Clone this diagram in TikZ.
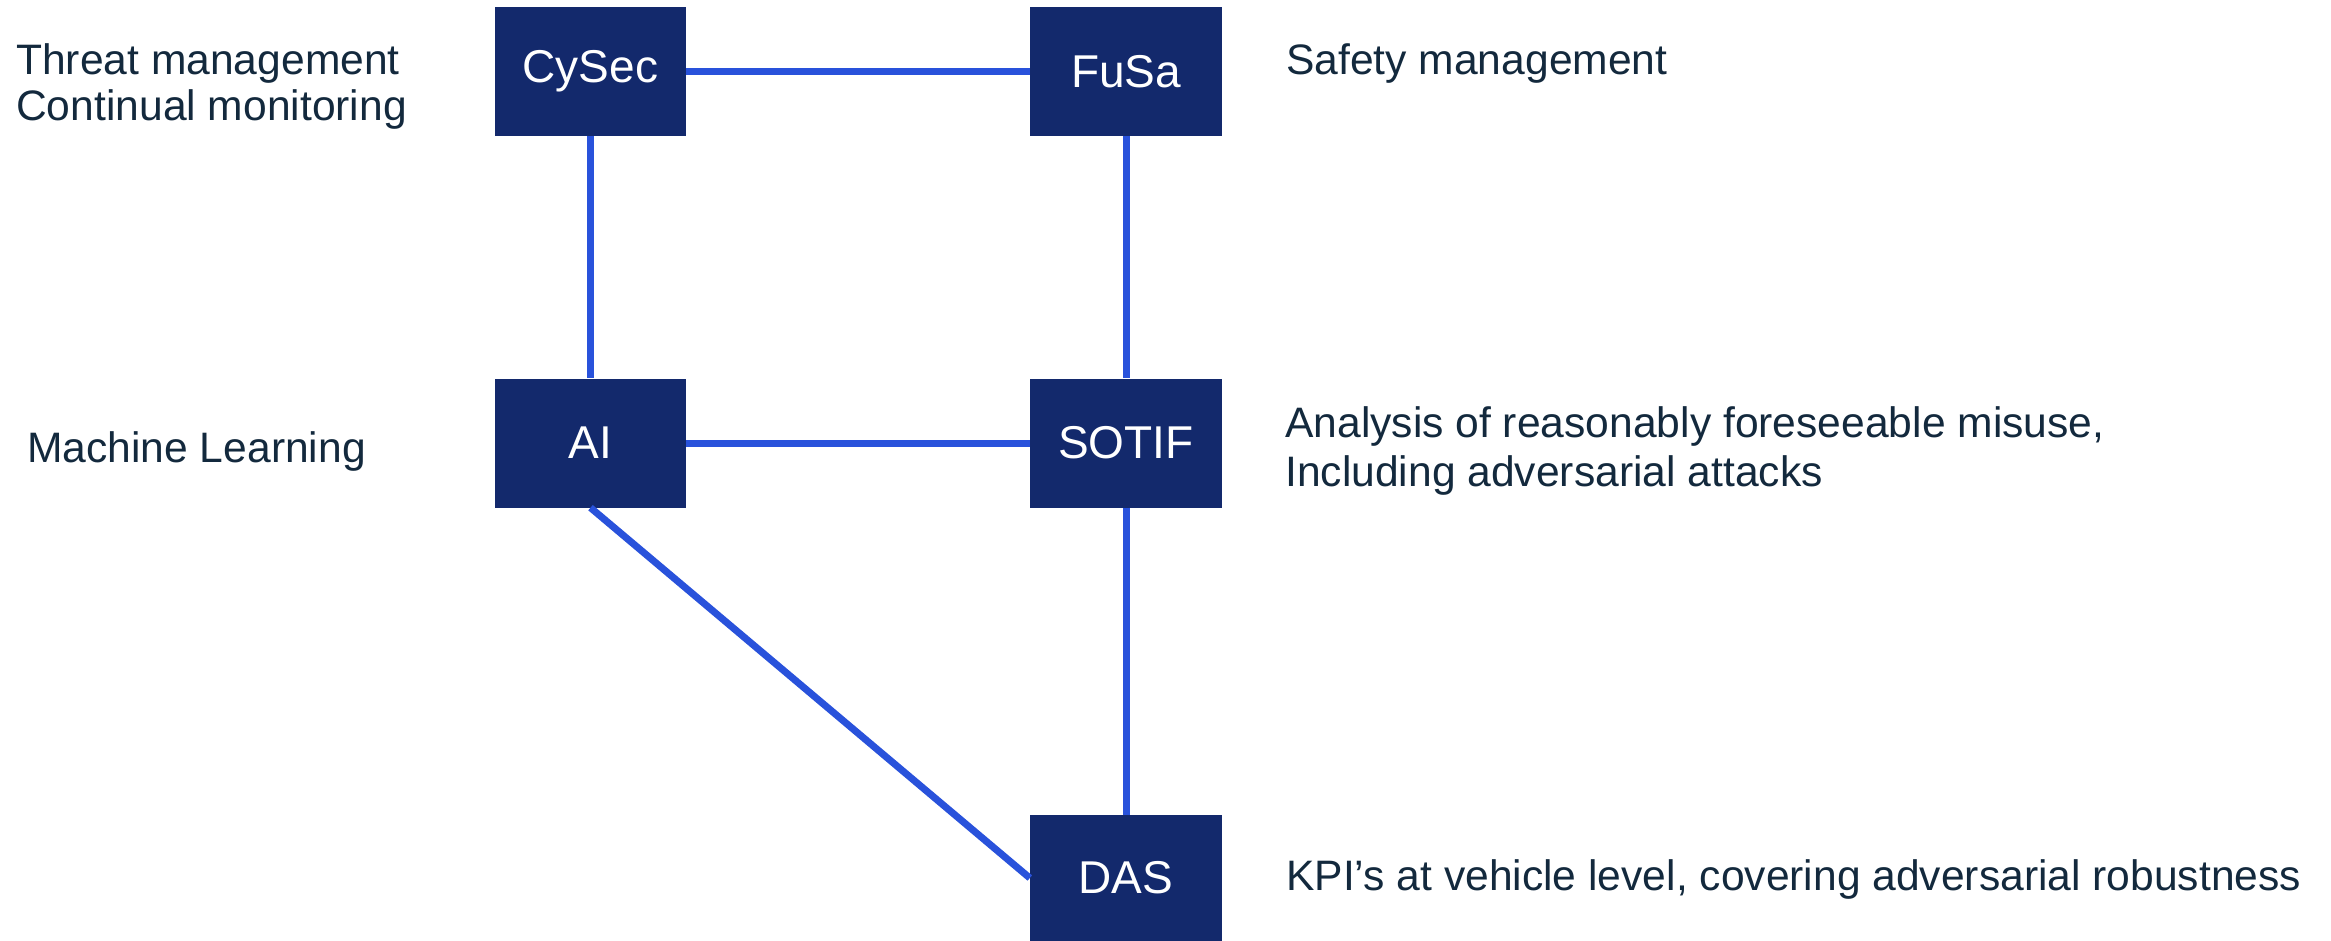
\documentclass[tikz,border=0pt]{standalone}
\usepackage{fontspec}
\setmainfont{Liberation Sans}
\definecolor{boxfill}{RGB}{19,41,108}
\definecolor{linkcol}{RGB}{41,82,219}
\definecolor{txtcol}{RGB}{19,41,61}
\tikzset{
  blk/.style={draw=none, fill=boxfill, text=white, inner sep=0pt,
    minimum width=191pt, minimum height=129pt, font=\fontsize{46pt}{50pt}\selectfont},
  lbl/.style={anchor=base west, inner sep=0pt, text=txtcol, font=\fontsize{42.6pt}{46pt}\selectfont},
  link/.style={draw=linkcol, line width=7pt}
}
\begin{document}
\begin{tikzpicture}[x=1pt,y=-1pt]
\useasboundingbox (0,0) rectangle (2331,941);
\node[blk] (cysec) at (590.5,71.5) {CySec};
\node[blk, minimum width=192pt] (fusa) at (1126,71.5) {FuSa};
\node[blk] (ai) at (590.5,443) {AI};
\node[blk, minimum width=192pt] (sotif) at (1126,443) {SOTIF};
\node[blk, minimum width=192pt, minimum height=126pt] (das) at (1126,878) {DAS};

\draw[link] (cysec.east) -- (fusa.west);
\draw[link] (cysec.south) -- (ai.north);
\draw[link] (fusa.south) -- (sotif.north);
\draw[link] (ai.east) -- (sotif.west);
\draw[link] (sotif.south) -- (das.north);
\draw[link] (ai.south) -- (das.west);

\node[lbl] (t1) at (16,75) {Threat management};
\node[lbl] (t2) at (16,121) {Continual monitoring};
\node[lbl] (s1) at (1286,75) {Safety management};
\node[lbl] (m1) at (27,462) {Machine Learning};
\node[lbl] (a1) at (1285,437) {Analysis of reasonably foreseeable misuse,};
\node[lbl] (a2) at (1285,486) {Including adversarial attacks};
\node[lbl] (k1) at (1286,890) {KPI’s at vehicle level, covering adversarial robustness};
\end{tikzpicture}
\end{document}
